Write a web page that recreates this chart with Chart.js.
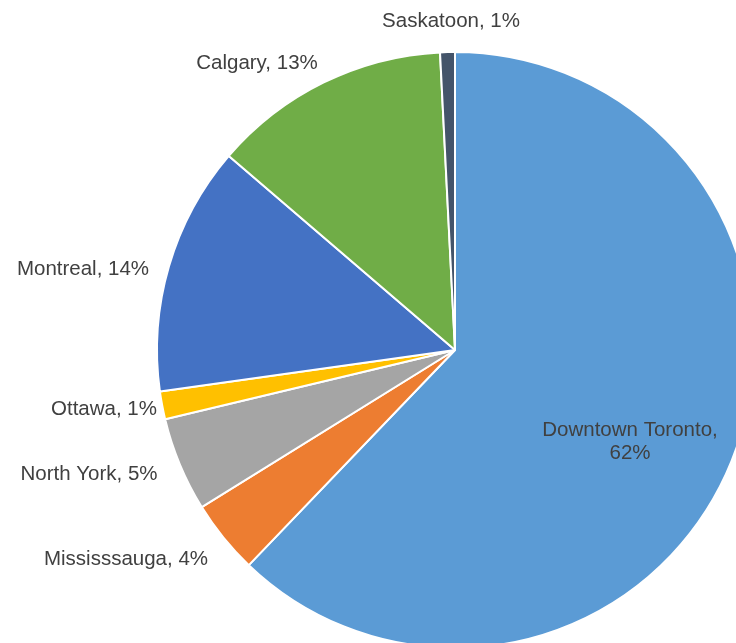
<!DOCTYPE html>
<html>
<head>
<meta charset="utf-8">
<script src="https://cdn.jsdelivr.net/npm/chart.js@4/dist/chart.umd.min.js"></script>
<style>
  html, body { margin: 0; padding: 0; background: #fff; overflow: hidden; width: 736px; height: 643px; }
  #wrap { position: absolute; left: 0; top: 0; width: 910px; height: 700px; }
</style>
</head>
<body>
<div id="wrap"><canvas id="miGrafico" width="910" height="700"></canvas></div>
<script>
// data (share of locations, %)
const categories = ['Downtown Toronto', 'Mississsauga', 'North York', 'Ottawa', 'Montreal', 'Calgary', 'Saskatoon'];
const values = [62.1, 4.0, 5.1, 1.5, 13.5, 12.9, 0.8];
const percentLabels = ['62%', '4%', '5%', '1%', '14%', '13%', '1%'];
const colors = ['#5B9BD5', '#ED7D31', '#A5A5A5', '#FFC000', '#4472C4', '#70AD47', '#44546A'];

// label anchor offsets from the pie centre (px), plus whether the label breaks onto two lines
const labelSpots = [
    { dx: 175, dy: 92, wrap: true },
    { dx: -329, dy: 209 },
    { dx: -366, dy: 124 },
    { dx: -351, dy: 59 },
    { dx: -372, dy: -81 },
    { dx: -198, dy: -287 },
    { dx: -4, dy: -329 }
];

const sliceLabels = {
    id: 'sliceLabels',
    afterDatasetsDraw(chart) {
        const arc = chart.getDatasetMeta(0).data[0];
        const cx = arc.x, cy = arc.y;
        const ctx = chart.ctx;
        ctx.save();
        ctx.font = '20.5px "Liberation Sans", Arial, sans-serif';
        ctx.fillStyle = '#404040';
        ctx.textAlign = 'center';
        ctx.textBaseline = 'middle';
        categories.forEach(function (name, i) {
            const spot = labelSpots[i];
            const x = cx + spot.dx, y = cy + spot.dy;
            if (spot.wrap) {
                ctx.fillText(name + ',', x, y - 11.5);
                ctx.fillText(percentLabels[i], x, y + 11.5);
            } else {
                ctx.fillText(name + ', ' + percentLabels[i], x, y);
            }
        });
        ctx.restore();
    }
};

window.onload = function () {
    const ctx = document.getElementById('miGrafico').getContext('2d');
    new Chart(ctx, {
        type: 'pie',
        data: {
            labels: categories,
            datasets: [{
                data: values,
                backgroundColor: colors,
                borderColor: '#ffffff',
                borderWidth: 2,
                hoverOffset: 0,
                radius: 298
            }]
        },
        options: {
            responsive: false,
            animation: false,
            events: [],
            layout: { padding: 0 },
            plugins: {
                legend: { display: false },
                tooltip: { enabled: false }
            }
        },
        plugins: [sliceLabels]
    });
};
</script>
</body>
</html>
